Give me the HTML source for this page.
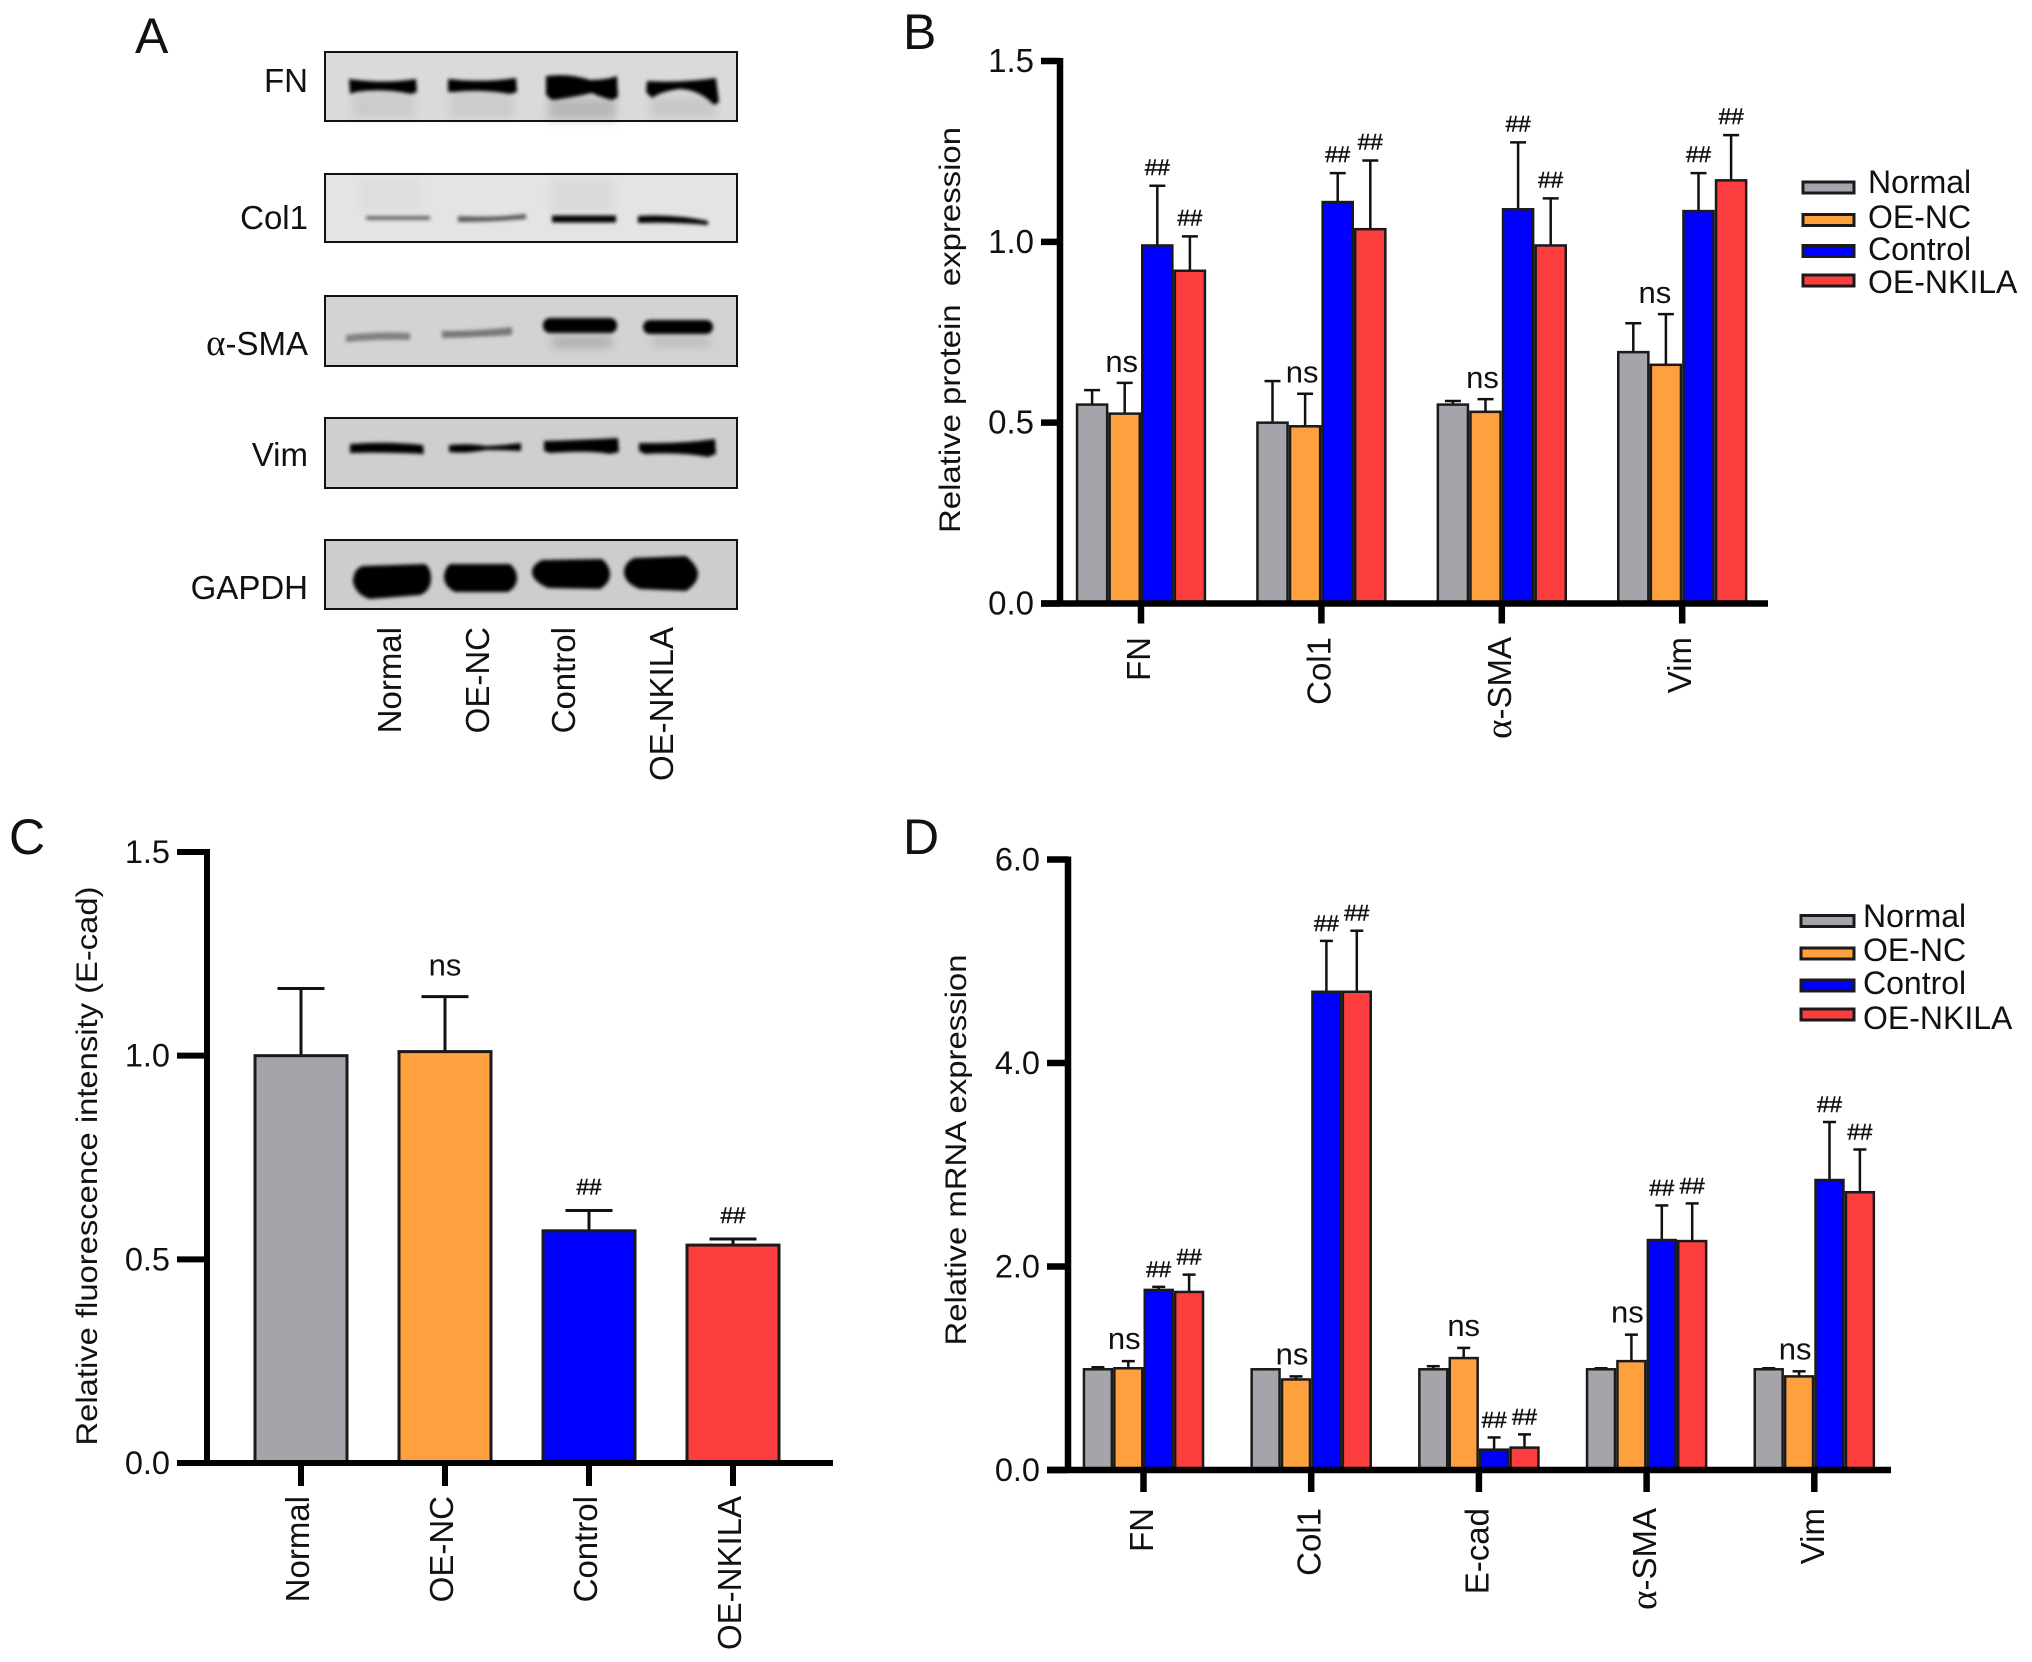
<!DOCTYPE html>
<html lang="en">
<head>
<meta charset="utf-8">
<title>Western blot and bar charts</title>
<style>
html,body{margin:0;padding:0;background:#fff;}
svg{display:block;}
text{font-family:"Liberation Sans",sans-serif;fill:#111;}
.greek{font-family:"Liberation Serif",serif;font-size:1.12em;}
</style>
</head>
<body>
<svg id="figure" xmlns="http://www.w3.org/2000/svg" width="2032" height="1662" viewBox="0 0 2032 1662">
<defs>
<filter id="b1" x="-20%" y="-80%" width="140%" height="260%"><feGaussianBlur stdDeviation="1.9"/></filter>
<filter id="b2" x="-20%" y="-80%" width="140%" height="260%"><feGaussianBlur stdDeviation="4.5"/></filter>
</defs>
<rect x="0" y="0" width="2032" height="1662" fill="#fff"/>

<g>
<text x="135" y="53" font-size="50">A</text>

<g>
<rect x="325" y="52" width="412" height="69" fill="#dadada"/>
<rect x="352" y="92" width="62" height="26" fill="#cbcbcb" filter="url(#b2)"/>
<rect x="450" y="92" width="64" height="26" fill="#cbcbcb" filter="url(#b2)"/>
<rect x="548" y="98" width="68" height="22" fill="#b8b8b8" filter="url(#b2)"/>
<rect x="650" y="96" width="66" height="22" fill="#c8c8c8" filter="url(#b2)"/>
<path d="M349 79 Q384 84 416 79 L417 92 L411 94 Q384 88 356 92 L350 94Z" fill="#050505" filter="url(#b1)"/>
<path d="M448 79 Q482 83 516 78 L517 92 L510 94 Q482 89 454 92 L448 92Z" fill="#050505" filter="url(#b1)"/>
<path d="M546 76 Q570 73 590 80 Q606 80 617 76 L618 97 L612 100 Q600 97 592 93 Q570 98 552 100 L546 95Z" fill="#000" filter="url(#b1)"/>
<path d="M647 81 Q680 83 716 78 L719 102 L714 105 Q700 90 680 89 Q662 91 652 98 L646 92Z" fill="#000" filter="url(#b1)"/>
<rect x="325" y="52" width="412" height="69" fill="none" stroke="#111" stroke-width="2"/>
</g>

<g>
<rect x="325" y="174" width="412" height="68" fill="#e4e4e4"/>
<rect x="360" y="178" width="60" height="34" fill="#dedede" filter="url(#b2)"/>
<rect x="550" y="178" width="64" height="34" fill="#dadada" filter="url(#b2)"/>
<path d="M366 216 L430 216 L430 220 L366 220Z" fill="#6a6a6a" filter="url(#b1)"/>
<path d="M458 216 Q490 218 526 214 L526 219 Q490 222 458 222Z" fill="#5a5a5a" filter="url(#b1)"/>
<rect x="552" y="215.5" width="64" height="7" fill="#000" filter="url(#b1)"/>
<path d="M638 216 Q675 214 708 221 L708 225 Q675 222 638 223Z" fill="#000" filter="url(#b1)"/>
<rect x="325" y="174" width="412" height="68" fill="none" stroke="#111" stroke-width="2"/>
</g>

<g>
<rect x="325" y="296" width="412" height="70" fill="#d3d3d3"/>
<rect x="552" y="336" width="60" height="12" fill="#b0b0b0" filter="url(#b2)"/>
<rect x="652" y="337" width="58" height="10" fill="#bcbcbc" filter="url(#b2)"/>
<path d="M346 335 Q380 331 410 333 L410 340 Q380 339 346 342Z" fill="#808080" filter="url(#b1)"/>
<path d="M442 331 Q480 331 512 327 L512 335 Q480 337 442 338Z" fill="#767676" filter="url(#b1)"/>
<rect x="543" y="318" width="74" height="15" rx="7" fill="#000" filter="url(#b1)"/>
<rect x="643" y="320" width="70" height="14" rx="7" fill="#000" filter="url(#b1)"/>
<rect x="325" y="296" width="412" height="70" fill="none" stroke="#111" stroke-width="2"/>
</g>

<g>
<rect x="325" y="418" width="412" height="70" fill="#cfcfcf"/>
<path d="M350 444 Q385 441 423 445 L424 454 Q385 452 350 453Z" fill="#000" filter="url(#b1)"/>
<path d="M449 445 Q470 443 486 446 Q505 445 521 443 L521 451 Q505 450 486 450 Q465 454 449 452Z" fill="#050505" filter="url(#b1)"/>
<path d="M544 441 Q580 440 618 438 L619 452 L610 454 Q590 450 550 453 L544 451Z" fill="#000" filter="url(#b1)"/>
<path d="M639 443 Q680 444 715 439 L716 454 L708 457 Q680 452 645 454 L639 451Z" fill="#000" filter="url(#b1)"/>
<rect x="325" y="418" width="412" height="70" fill="none" stroke="#111" stroke-width="2"/>
</g>

<g>
<rect x="325" y="540" width="412" height="69" fill="#cdcdcd"/>
<path d="M362 566 L425 564 Q431 568 431 578 Q431 591 420 595 L370 599 Q356 595 353 582 Q353 570 362 566Z" fill="#000" filter="url(#b1)"/>
<path d="M450 564 L510 564 Q517 570 517 578 Q517 587 508 592 L455 592 Q445 587 444 578 Q444 569 450 564Z" fill="#000" filter="url(#b1)"/>
<path d="M542 560 L602 559 Q610 566 610 574 Q610 583 600 589 L548 588 Q532 581 532 572 Q532 565 542 560Z" fill="#000" filter="url(#b1)"/>
<path d="M634 558 L686 556 Q698 566 698 574 Q698 583 686 591 L640 589 Q624 583 624 572 Q624 563 634 558Z" fill="#000" filter="url(#b1)"/>
<rect x="325" y="540" width="412" height="69" fill="none" stroke="#111" stroke-width="2"/>
</g>

<text x="308" y="92" font-size="33" text-anchor="end">FN</text>
<text x="308" y="229" font-size="33" text-anchor="end">Col1</text>
<text x="308" y="355" font-size="33" text-anchor="end"><tspan class="greek">α</tspan>-SMA</text>
<text x="308" y="466" font-size="33" text-anchor="end">Vim</text>
<text x="308" y="599" font-size="33" text-anchor="end">GAPDH</text>

<text transform="translate(401,627) rotate(-90)" font-size="33" text-anchor="end">Normal</text>
<text transform="translate(489,627) rotate(-90)" font-size="33" text-anchor="end">OE-NC</text>
<text transform="translate(575,627) rotate(-90)" font-size="33" text-anchor="end">Control</text>
<text transform="translate(673,627) rotate(-90)" font-size="33" text-anchor="end">OE-NKILA</text>
</g>

<text x="903" y="49" font-size="50">B</text>
<text x="9" y="854" font-size="50">C</text>
<text x="903" y="854" font-size="50">D</text>

<text transform="translate(960,330) rotate(-90)" font-size="30" text-anchor="middle" textLength="406" lengthAdjust="spacingAndGlyphs" xml:space="preserve">Relative protein  expression</text>
<text transform="translate(97,1166) rotate(-90)" font-size="30" text-anchor="middle" textLength="559" lengthAdjust="spacingAndGlyphs">Relative fluorescence intensity (E-cad)</text>
<text transform="translate(966,1150) rotate(-90)" font-size="30" text-anchor="middle" textLength="391" lengthAdjust="spacingAndGlyphs">Relative mRNA expression</text>

<g id="chart-b"></g>
<g id="chart-c"></g>
<g id="chart-d"></g>
</svg>

<script>
// Shared series
const seriesNames = ['Normal', 'OE-NC', 'Control', 'OE-NKILA'];
const seriesColors = ['#a5a4aa', '#fea03d', '#0000fe', '#fd3e3e'];

// Panel B: relative protein expression
const categoriesB = ['FN', 'Col1', 'α-SMA', 'Vim'];
const ticksB = ['0.0', '0.5', '1.0', '1.5'];
const normalB = [0.55, 0.50, 0.55, 0.695];
const oeNcB = [0.525, 0.49, 0.53, 0.66];
const controlB = [0.99, 1.11, 1.09, 1.085];
const nkilaB = [0.92, 1.035, 0.99, 1.17];
const normalErrB = [0.59, 0.615, 0.56, 0.775];
const oeNcErrB = [0.61, 0.58, 0.565, 0.80];
const controlErrB = [1.155, 1.19, 1.275, 1.19];
const nkilaErrB = [1.015, 1.225, 1.12, 1.295];
const normalMarkB = ['', '', '', ''];
const oeNcMarkB = ['ns', 'ns', 'ns', 'ns'];
const controlMarkB = ['##', '##', '##', '##'];
const nkilaMarkB = ['##', '##', '##', '##'];

// Panel C: relative fluorescence intensity
const categoriesC = ['Normal', 'OE-NC', 'Control', 'OE-NKILA'];
const ticksC = ['0.0', '0.5', '1.0', '1.5'];
const valuesC = [1.0, 1.01, 0.57, 0.535];
const errTopsC = [1.165, 1.145, 0.62, 0.55];
const marksC = ['', 'ns', '##', '##'];

// Panel D: relative mRNA expression
const categoriesD = ['FN', 'Col1', 'E-cad', 'α-SMA', 'Vim'];
const ticksD = ['0.0', '2.0', '4.0', '6.0'];
const normalD = [0.99, 0.99, 0.99, 0.99, 0.99];
const oeNcD = [1.0, 0.89, 1.1, 1.07, 0.92];
const controlD = [1.77, 4.7, 0.2, 2.26, 2.85];
const nkilaD = [1.75, 4.7, 0.22, 2.25, 2.73];
const normalErrD = [1.01, 0.99, 1.02, 1.0, 1.0];
const oeNcErrD = [1.07, 0.92, 1.2, 1.33, 0.97];
const controlErrD = [1.8, 5.2, 0.32, 2.6, 3.42];
const nkilaErrD = [1.92, 5.3, 0.35, 2.62, 3.15];
const normalMarkD = ['', '', '', '', ''];
const oeNcMarkD = ['ns', 'ns', 'ns', 'ns', 'ns'];
const controlMarkD = ['##', '##', '##', '##', '##'];
const nkilaMarkD = ['##', '##', '##', '##', '##'];

const NS = 'http://www.w3.org/2000/svg';

function make(tag, parent, attrs) {
  const node = document.createElementNS(NS, tag);
  for (const key in attrs) node.setAttribute(key, attrs[key]);
  parent.appendChild(node);
  return node;
}

function drawAxes(root, cfg, categories, ticks, xOf, yOf) {
  const yAxis = make('line', root, { x1: cfg.axisX, x2: cfg.axisX, y1: yOf(cfg.max) - 3, y2: cfg.y0 + 3, stroke: '#000', 'stroke-width': cfg.axisW });
  
  
  const xAxis = make('line', root, { x1: cfg.tickLeft, x2: cfg.xEnd, y1: cfg.y0, y2: cfg.y0, stroke: '#000', 'stroke-width': cfg.axisW });
  
  
  ticks.forEach(function (label) {
    const y = yOf(parseFloat(label));
    const tick = make('line', root, { x1: cfg.tickLeft, x2: cfg.axisX, y1: y, y2: y, stroke: '#000', 'stroke-width': cfg.axisW });
    
    
    const txt = make('text', root, { x: cfg.labelRight, y: y + 11, 'font-size': cfg.tickFont, 'text-anchor': 'end' });
    
    
    txt.textContent = label;
  });
  categories.forEach(function (label, i) {
    const x = xOf(i);
    const tick = make('line', root, { x1: x, x2: x, y1: cfg.y0, y2: cfg.y0 + cfg.tickLen, stroke: '#000', 'stroke-width': cfg.axisW });
    
    
    const txt = make('text', root, { transform: 'translate(' + (x + cfg.labelDx) + ',' + cfg.catTop + ') rotate(-90)', 'font-size': cfg.catFont, 'text-anchor': 'end' });
    
    
    if (label.charAt(0) === 'α') {
      const greek = make('tspan', txt, { class: 'greek' });
      
      
      greek.textContent = 'α';
      txt.appendChild(document.createTextNode(label.slice(1)));
    } else {
      txt.textContent = label;
    }
  });
}

function drawBar(root, cfg, cx, value, errTop, color, mark, yOf, nsShift) {
  const top = yOf(value);
  const errY = yOf(errTop);
  const errLine = make('line', root, { x1: cx, x2: cx, y1: top, y2: errY, stroke: '#111', 'stroke-width': cfg.errW });
  
  
  const cap = make('line', root, { x1: cx - cfg.capHalf, x2: cx + cfg.capHalf, y1: errY, y2: errY, stroke: '#111', 'stroke-width': cfg.errW });
  
  
  const bar = make('rect', root, { x: cx - cfg.barW / 2 + cfg.barStroke / 2, y: top, width: cfg.barW - cfg.barStroke, height: Math.max(0, cfg.y0 - top), fill: color, stroke: '#1a1a1a', 'stroke-width': cfg.barStroke });
  
  
  if (mark) {
    const isNs = mark === 'ns';
    const label = make('text', root, { x: cx + (isNs ? nsShift : 0), y: errY - (isNs ? cfg.nsGap : cfg.hashGap), 'font-size': isNs ? cfg.nsFont : cfg.hashFont, 'text-anchor': 'middle', stroke: isNs ? 'none' : '#111', 'stroke-width': isNs ? 0 : 0.5 });
    
    
    label.textContent = mark;
  }
}

function drawLegend(root, cfg) {
  seriesNames.forEach(function (name, i) {
    const swatch = make('rect', root, { x: cfg.legendX, y: cfg.legendY[i], width: cfg.legendW, height: cfg.legendH, fill: seriesColors[i], stroke: '#1a1a1a', 'stroke-width': 3 });
    
    
    const txt = make('text', root, { x: cfg.legendTextX, y: cfg.legendBase[i], 'font-size': cfg.legendFont });
    
    
    txt.textContent = name;
  });
}

function drawGrouped(id, cfg, categories, ticks, series, errs, marks) {
  const root = document.getElementById(id);
  const yOf = function (v) { return cfg.y0 - v / cfg.max * (cfg.y0 - cfg.yTop); };
  const xOf = function (i) { return cfg.x0 + i * cfg.step; };
  series.forEach(function (values, s) {
    values.forEach(function (v, i) {
      const cx = xOf(i) + (s - 1.5) * cfg.barW;
      const nsShift = cfg.nsDx + (i === cfg.nsExtraIndex ? cfg.nsExtraDx : 0);
      drawBar(root, cfg, cx, v, errs[s][i], seriesColors[s], marks[s][i], yOf, nsShift);
    });
  });
  drawAxes(root, cfg, categories, ticks, xOf, yOf);
  drawLegend(root, cfg);
}

function drawSingle(id, cfg, categories, ticks, values, errs, marks) {
  const root = document.getElementById(id);
  const yOf = function (v) { return cfg.y0 - v / cfg.max * (cfg.y0 - cfg.yTop); };
  const xOf = function (i) { return cfg.x0 + i * cfg.step; };
  values.forEach(function (v, i) {
    drawBar(root, cfg, xOf(i), v, errs[i], seriesColors[i], marks[i], yOf, 0);
  });
  drawAxes(root, cfg, categories, ticks, xOf, yOf);
}

drawGrouped('chart-b', {
  max: 1.5, y0: 603.5, yTop: 61, x0: 1141, step: 180.4, barW: 32.6, barStroke: 2.5, errW: 2.5, capHalf: 8,
  axisX: 1060, axisW: 6.5, tickLeft: 1041, xEnd: 1768, tickLen: 20, labelRight: 1034, tickFont: 33,
  catTop: 637, catFont: 33, labelDx: 9, nsGap: 11, hashGap: 11, nsFont: 31, hashFont: 22.5,
  nsDx: -3, nsExtraIndex: 3, nsExtraDx: -8,
  legendX: 1803, legendW: 51, legendH: 11, legendY: [182, 214.5, 245.5, 275], legendTextX: 1868,
  legendBase: [193, 228, 260, 293], legendFont: 32
}, categoriesB, ticksB, [normalB, oeNcB, controlB, nkilaB], [normalErrB, oeNcErrB, controlErrB, nkilaErrB], [normalMarkB, oeNcMarkB, controlMarkB, nkilaMarkB]);

drawSingle('chart-c', {
  max: 1.5, y0: 1463, yTop: 852, x0: 301, step: 144, barW: 95, barStroke: 3, errW: 3, capHalf: 23.5,
  axisX: 207, axisW: 6, tickLeft: 177, xEnd: 833, tickLen: 23, labelRight: 170, tickFont: 32.5,
  catTop: 1496, catFont: 33, labelDx: 8, nsGap: 21, hashGap: 16, nsFont: 31, hashFont: 22.5
}, categoriesC, ticksC, valuesC, errTopsC, marksC);

drawGrouped('chart-d', {
  max: 6, y0: 1470, yTop: 859.5, x0: 1143.5, step: 167.7, barW: 30.4, barStroke: 2.5, errW: 2.5, capHalf: 6.5,
  axisX: 1068, axisW: 6.5, tickLeft: 1047, xEnd: 1891, tickLen: 22, labelRight: 1040, tickFont: 32.5,
  catTop: 1508, catFont: 33, labelDx: 9.5, nsGap: 12, hashGap: 10, nsFont: 31, hashFont: 22.5,
  nsDx: -4, nsExtraIndex: 2, nsExtraDx: 4,
  legendX: 1801, legendW: 53, legendH: 11, legendY: [915.5, 948, 980, 1009], legendTextX: 1863,
  legendBase: [927, 961, 994, 1029], legendFont: 32
}, categoriesD, ticksD, [normalD, oeNcD, controlD, nkilaD], [normalErrD, oeNcErrD, controlErrD, nkilaErrD], [normalMarkD, oeNcMarkD, controlMarkD, nkilaMarkD]);
</script>
</body>
</html>
